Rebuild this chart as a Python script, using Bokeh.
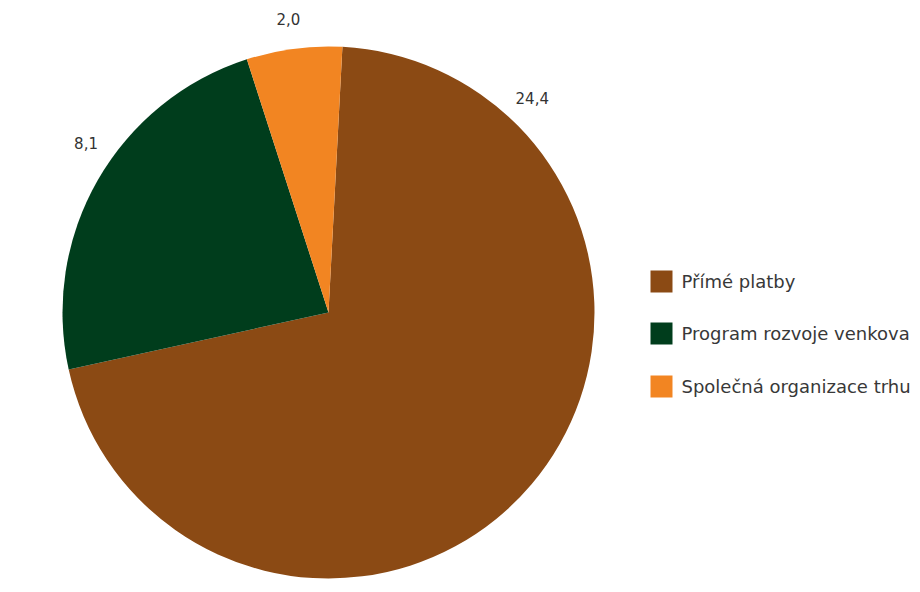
import math
from bokeh.plotting import figure
from bokeh.models import Range1d, ColumnDataSource
from bokeh.core.properties import value
from bokeh.embed import file_html
from bokeh.resources import INLINE

# ---- data ----
categories = ["Přímé platby", "Program rozvoje venkova", "Společná organizace trhu"]
values = [24.4, 8.1, 2.0]
value_labels = ["24,4", "8,1", "2,0"]
colors = ["#8B4A14", "#003D1C", "#F28522"]

# ---- layout constants ----
W, H = 920, 592
CX, CY, R = 328, H - 312, 266
START_DEG = 87.0          # brown slice starts just right of 12 o'clock, runs clockwise
label_angles_deg = [46.5, 145.0, 97.8]
LABEL_R = 296
FONT = "DejaVu Sans"

p = figure(width=W, height=H, output_backend="svg", toolbar_location=None,
           x_range=Range1d(0, W), y_range=Range1d(0, H), min_border=0)
p.axis.visible = False
p.grid.visible = False
p.outline_line_color = None
p.background_fill_color = "white"
p.border_fill_color = "white"

# wedges (clockwise from START)
total = sum(values)
starts, ends = [], []
cur = math.radians(START_DEG)
for v in values:
    span = v / total * 2 * math.pi
    starts.append(cur - span)
    ends.append(cur)
    cur -= span

src = ColumnDataSource(dict(start=starts, end=ends, color=colors, cat=categories))
p.wedge(x=CX, y=CY, radius=R, start_angle="start", end_angle="end",
        fill_color="color", line_color=None, source=src)

# value labels
lx = [CX + LABEL_R * math.cos(math.radians(a)) for a in label_angles_deg]
ly = [CY + LABEL_R * math.sin(math.radians(a)) for a in label_angles_deg]
p.text(x=lx, y=ly, text=value_labels, text_font=value(FONT), text_font_size="15px",
       text_color="#333333", text_align="center", text_baseline="middle")

# legend (manual)
leg_x = 661
leg_y = [H - 281, H - 333, H - 386]
p.rect(x=[leg_x] * 3, y=leg_y, width=22, height=22, fill_color=colors, line_color=None)
p.text(x=[leg_x + 20] * 3, y=leg_y, text=categories, text_font=value(FONT),
       text_font_size="18px", text_color="#383838", text_align="left",
       text_baseline="middle")

open("out.html", "w").write(file_html(p, INLINE))
